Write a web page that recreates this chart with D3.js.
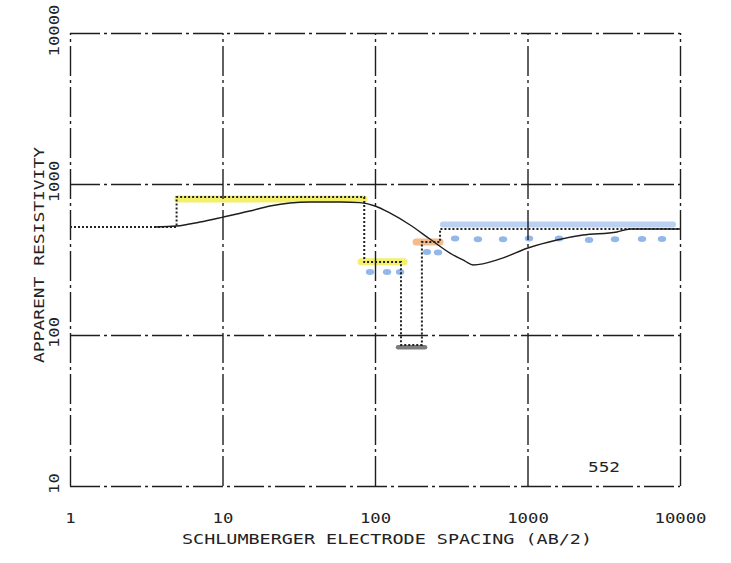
<!DOCTYPE html>
<html>
<head>
<meta charset="utf-8">
<script src="https://cdn.jsdelivr.net/npm/d3@7"></script>
<style>
  html, body { margin: 0; padding: 0; background: #fff; }
  svg { display: block; }
  text { font-family: "DejaVu Sans Mono", "Liberation Mono", monospace; fill: #222; }
</style>
</head>
<body>
<svg id="chart" width="731" height="563"></svg>
<script>
// Axis decades (AB/2 spacing and apparent resistivity, both log scale)
const xTicks = [1, 10, 100, 1000, 10000];
const yTicks = [10, 100, 1000, 10000];
const xTickLabels = ["1", "10", "100", "1000", "10000"];
const yTickLabels = ["10", "100", "1000", "10000"];

// Layered earth model: resistivity of each layer between spacing breaks
const modelBreaks = [1, 5.0, 85, 148, 203, 267, 10000];
const modelRho = [520, 820, 304, 86, 413, 503];

// Computed Schlumberger sounding curve (AB/2, apparent resistivity)
const curveAB = [3.6, 5.0, 7.12, 10.1, 15.1, 20.5, 27.7, 37.5, 58.9, 79.7, 100, 125, 170, 229, 310, 389, 440, 661, 1007, 1560, 2310, 3860, 4700, 10000];
const curveRho = [519, 527, 560, 604, 662, 715, 749, 760, 760, 753, 715, 643, 535, 432, 349, 309, 291, 319, 377, 426, 459, 481, 503, 503];

// Hand-marked highlight strokes over the model layers
const markStart = [5.1, 81, 141.5, 186, 279];
const markEnd = [84.7, 155, 213, 267, 9000];
const markRho = [796, 305, 83, 413, 539];
const markColor = ["#f3ef5c", "#f3ef5c", "#707070", "#f4b47e", "#b3cdf0"];
const markWidth = [7, 7, 4.5, 7, 6];

// Hand-drawn blue dots
const dotAB = [92.7, 120, 146, 219, 259, 335, 473, 691, 1023, 1609, 2531, 3748, 5636, 7621];
const dotRho = [261, 261, 261, 355, 352, 435, 430, 430, 435, 435, 425, 430, 432, 432];

const stationLabel = "552";
const xTitle = "SCHLUMBERGER ELECTRODE SPACING (AB/2)";
const yTitle = "APPARENT RESISTIVITY";

const svg = d3.select("#chart");
const plotL = 70, plotR = 680, plotT = 33, plotB = 486;

const x = d3.scaleLog().domain([1, 10000]).range([plotL, plotR]);
const y = d3.scaleLog().domain([10, 10000]).range([plotB, plotT]);

const gridDash = "30,4,3,4";
const ink = "#1e1e1e";

// Highlight marks (under the plotted lines)
const marks = svg.append("g");
markStart.forEach((s, i) => {
  marks.append("line")
    .attr("x1", x(s)).attr("x2", x(markEnd[i]))
    .attr("y1", y(markRho[i])).attr("y2", y(markRho[i]))
    .attr("stroke", markColor[i])
    .attr("stroke-width", markWidth[i])
    .attr("stroke-linecap", "round")
    .attr("opacity", 0.9);
});
marks.selectAll("ellipse").data(dotAB).join("ellipse")
  .attr("cx", d => x(d))
  .attr("cy", (d, i) => y(dotRho[i]))
  .attr("rx", 4.2).attr("ry", 3)
  .attr("fill", "#86afe6")
  .attr("opacity", 0.9);

// Grid: vertical decade lines
const gx = svg.append("g")
  .attr("transform", `translate(0,${plotB})`)
  .call(d3.axisBottom(x).tickValues(xTicks).tickSize(-(plotB - plotT)).tickFormat((d, i) => xTickLabels[i]));
gx.select(".domain").remove();
gx.selectAll(".tick line")
  .attr("stroke", ink).attr("stroke-width", 1.4).attr("stroke-dasharray", gridDash);
gx.selectAll(".tick text")
  .attr("y", 37).attr("dy", 0)
  .attr("font-size", 14)
  .attr("fill", "#222")
  .attr("font-family", "DejaVu Sans Mono, monospace")
  .attr("textLength", (d, i) => xTickLabels[i].length * 10.4)
  .attr("lengthAdjust", "spacingAndGlyphs");

// Grid: horizontal decade lines
const gy = svg.append("g")
  .attr("transform", `translate(${plotL},0)`)
  .call(d3.axisLeft(y).tickValues(yTicks).tickSize(-(plotR - plotL)).tickFormat((d, i) => yTickLabels[i]));
gy.select(".domain").remove();
gy.selectAll(".tick line")
  .attr("stroke", ink).attr("stroke-width", 1.4).attr("stroke-dasharray", gridDash);
gy.selectAll(".tick text")
  .attr("x", 0).attr("dy", 0)
  .attr("text-anchor", "middle")
  .attr("transform", "translate(-11,-3) rotate(-90)")
  .attr("font-size", 14)
  .attr("fill", "#222")
  .attr("font-family", "DejaVu Sans Mono, monospace")
  .attr("textLength", (d, i) => yTickLabels[i].length * 10.4)
  .attr("lengthAdjust", "spacingAndGlyphs");

// Layered model as a dotted step line
const steps = [];
modelRho.forEach((r, i) => {
  steps.push([modelBreaks[i], r]);
  steps.push([modelBreaks[i + 1], r]);
});
svg.append("path")
  .datum(steps)
  .attr("d", d3.line().x(d => x(d[0])).y(d => y(d[1])))
  .attr("fill", "none")
  .attr("stroke", "#222")
  .attr("stroke-width", 2)
  .attr("stroke-dasharray", "2,2");

// Sounding curve
svg.append("path")
  .datum(curveAB.map((a, i) => [a, curveRho[i]]))
  .attr("d", d3.line().x(d => x(d[0])).y(d => y(d[1])).curve(d3.curveMonotoneX))
  .attr("fill", "none")
  .attr("stroke", ink)
  .attr("stroke-width", 1.4);

// Titles
svg.append("text")
  .attr("x", 387).attr("y", 544)
  .attr("text-anchor", "middle")
  .attr("font-size", 14.5)
  .attr("textLength", 410).attr("lengthAdjust", "spacingAndGlyphs")
  .text(xTitle);

svg.append("text")
  .attr("transform", "translate(44,255) rotate(-90)")
  .attr("text-anchor", "middle")
  .attr("font-size", 14.5)
  .attr("textLength", 216).attr("lengthAdjust", "spacingAndGlyphs")
  .text(yTitle);

svg.append("text")
  .attr("x", 604).attr("y", 472)
  .attr("text-anchor", "middle")
  .attr("font-size", 14.5)
  .attr("textLength", 32).attr("lengthAdjust", "spacingAndGlyphs")
  .text(stationLabel);
</script>
</body>
</html>
